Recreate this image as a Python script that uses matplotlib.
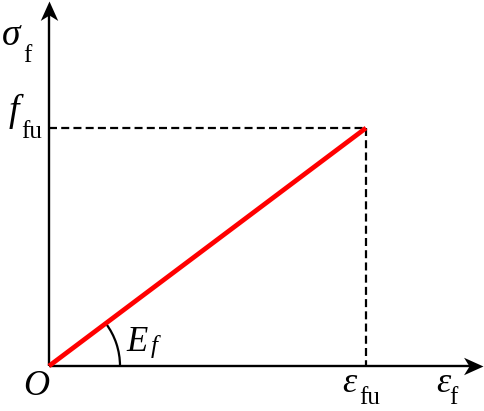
import numpy as np
import matplotlib
matplotlib.use("Agg")
import matplotlib.pyplot as plt
from matplotlib.patches import Arc
from matplotlib.path import Path

plt.rcParams['font.family'] = ['Liberation Serif', 'DejaVu Serif']

# Data (normalized ultimate strain / stress)
strain = [0.0, 1.0]          # epsilon values: origin, epsilon_fu
stress = [0.0, 1.0]          # sigma values: origin, f_fu
eps_fu = strain[1]
f_fu = stress[1]

W, H = 484, 411
fig = plt.figure(figsize=(W / 100, H / 100), dpi=100)
ax = fig.add_axes([0, 0, 1, 1])
ax.set_axis_off()

# pixel layout of the reference
ox, oy = 49, 366          # origin px (from top)
px_x1, px_y1 = 366, 128   # point (eps_fu, f_fu) in px
sx = (px_x1 - ox) / eps_fu
sy = (oy - px_y1) / f_fu
ax.set_xlim(-ox / sx, (W - ox) / sx)
ax.set_ylim(-(H - oy) / sy, oy / sy)

def tx(p):
    return (p - ox) / sx
def ty(p):
    return (oy - p) / sy

# axes lines
ax.plot([0, tx(476)], [0, 0], color='black', lw=1.7, solid_capstyle='butt')
ax.plot([0, 0], [0, ty(8)], color='black', lw=1.7, solid_capstyle='butt')
# stealth arrowheads (tip at marker position)
right_head = Path([(0, 0), (-1, 0.45), (-0.72, 0), (-1, -0.45), (0, 0)],
                  [Path.MOVETO, Path.LINETO, Path.LINETO, Path.LINETO, Path.CLOSEPOLY])
up_head = Path([(0, 0), (0.45, -1), (0, -0.72), (-0.45, -1), (0, 0)],
               [Path.MOVETO, Path.LINETO, Path.LINETO, Path.LINETO, Path.CLOSEPOLY])
ax.plot([tx(483)], [0], marker=right_head, markersize=28, color='black',
        markeredgewidth=0, clip_on=False)
ax.plot([0], [ty(1)], marker=up_head, markersize=28, color='black',
        markeredgewidth=0, clip_on=False)

# dashed guide lines
ls = (0, (3.6, 1.9))
ax.plot([0, eps_fu], [f_fu, f_fu], color='black', lw=1.6, linestyle=ls)
ax.plot([eps_fu, eps_fu], [f_fu, 0], color='black', lw=1.6, linestyle=ls)

# red linear line
ax.plot(strain, stress, color='#ff0000', lw=3.4, solid_capstyle='butt', zorder=5)

# arc for modulus
r_px = 71
theta = np.degrees(np.arctan2(f_fu, eps_fu))
arc = Arc((0, 0), 2 * r_px / sx, 2 * r_px / sy, theta1=0, theta2=theta,
          color='black', lw=1.6)
ax.add_patch(arc)

def lab(s, x, y, size, style='normal'):
    ax.text(tx(x), ty(y), s, fontsize=size, style=style, ha='left', va='baseline')

# sigma_f
lab('σ', 2, 45, 27, 'italic')
lab('f', 23, 62, 18)
# f_fu
lab('f', 9, 121, 27, 'italic')
lab('fu', 21, 138, 18)
# O
lab('O', 23, 395, 26, 'italic')
# E_f
lab('E', 126, 351, 25, 'italic')
lab('f', 151, 353, 18, 'italic')
# eps_fu
lab('ε', 342, 392, 26, 'italic')
lab('fu', 359, 404, 18)
# eps_f
lab('ε', 436, 392, 26, 'italic')
lab('f', 449, 404, 18)

fig.savefig('out.png', dpi=100)
